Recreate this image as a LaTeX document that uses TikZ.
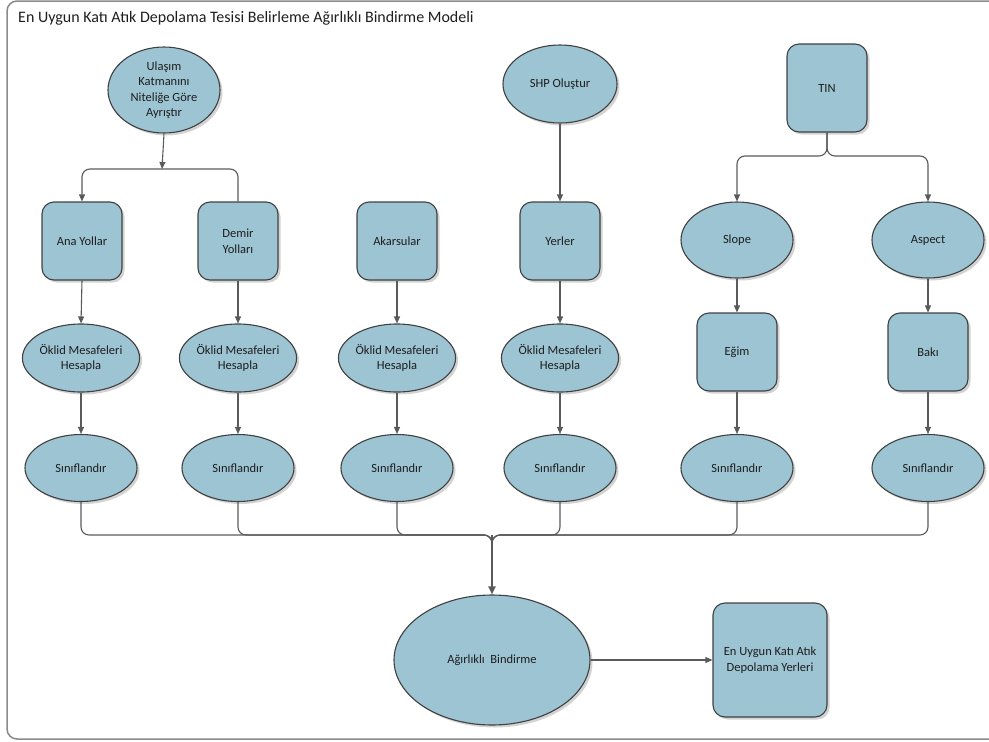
\documentclass[tikz,border=0pt]{standalone}
\usepackage{fontspec}
\setmainfont{Carlito}
\usetikzlibrary{shapes.geometric,arrows.meta,shadows}
\definecolor{nodefill}{HTML}{9DC4D3}
\definecolor{nodeline}{HTML}{404040}
\definecolor{conncol}{HTML}{5A5A5A}
\definecolor{framecol}{HTML}{8A8A8A}
\definecolor{txtcol}{HTML}{1E1E1E}
\tikzset{
  base/.style={draw=nodeline, line width=1.1pt, fill=nodefill, text=txtcol,
    font=\fontsize{12.5}{15.5}\selectfont, align=center, inner sep=0pt,
    drop shadow={shadow xshift=2.5pt, shadow yshift=-2.5pt, opacity=0.35, fill=gray}},
  ell/.style={base, ellipse, minimum width=112pt, minimum height=70pt},
  rbox/.style={base, rectangle, rounded corners=12pt, minimum width=80pt, minimum height=78pt},
  conn/.style={draw=conncol, line width=1.1pt},
  arr/.style={conn, -{Triangle[length=7pt,width=6pt]}},
}
\begin{document}
\begin{tikzpicture}[x=1pt,y=-1pt]
\useasboundingbox (0,0) rectangle (989,742);
\begin{scope}
\clip (0,0) rectangle (989,742);
\draw[framecol, line width=1.5pt, rounded corners=10pt] (7,1) rectangle (1000,739);
\end{scope}
\node[anchor=base west, text=txtcol, font=\fontsize{16}{19}\selectfont, inner sep=0pt] (title) at (18,22) {En Uygun Katı Atık Depolama Tesisi Belirleme Ağırlıklı Bindirme Modeli};

% top row
\node[ell, minimum height=86pt] (ul) at (164,90) {Ulaşım\\Katmanını\\Niteliğe Göre\\Ayrıştır};
\node[ell, minimum width=114pt, minimum height=78pt] (shp) at (560,84) {SHP Oluştur};
\node[rbox, minimum height=88pt] (tin) at (827,88) {TIN};

% second row
\node[rbox] (ana) at (82,241) {Ana Yollar};
\node[rbox] (dem) at (238,241) {Demir\\Yolları};
\node[rbox] (aka) at (397,241) {Akarsular};
\node[rbox] (yer) at (560,241) {Yerler};
\node[ell, minimum height=76pt] (slo) at (737,240) {Slope};
\node[ell, minimum height=76pt] (asp) at (928,240) {Aspect};

% third row
\node[ell, minimum height=68pt] (o1) at (81,358) {Öklid Mesafeleri\\Hesapla};
\node[ell, minimum height=68pt] (o2) at (238,358) {Öklid Mesafeleri\\Hesapla};
\node[ell, minimum height=68pt] (o3) at (397,358) {Öklid Mesafeleri\\Hesapla};
\node[ell, minimum height=68pt] (o4) at (560,358) {Öklid Mesafeleri\\Hesapla};
\node[rbox] (egm) at (737,352) {Eğim};
\node[rbox] (bak) at (928,352) {Bakı};

% fourth row
\node[ell, minimum height=67pt] (s1) at (81,468) {Sınıflandır};
\node[ell, minimum height=67pt] (s2) at (238,468) {Sınıflandır};
\node[ell, minimum height=67pt] (s3) at (397,468) {Sınıflandır};
\node[ell, minimum height=67pt] (s4) at (560,468) {Sınıflandır};
\node[ell, minimum height=67pt] (s5) at (737,468) {Sınıflandır};
\node[ell, minimum height=67pt] (s6) at (928,468) {Sınıflandır};

% bottom
\node[ell, minimum width=196pt, minimum height=130pt] (agr) at (492,660) {Ağırlıklı~ Bindirme};
\node[rbox, minimum width=114pt, minimum height=114pt] (res) at (770,660) {En Uygun Katı Atık\\Depolama Yerleri};

% junction coordinates
\coordinate (j1) at (162,169);
\coordinate (j2) at (827,156);
\coordinate (j3) at (492,535);
\coordinate (j4) at (492,560);

% connectors top
\draw[arr] (ul.south) -- (j1);
\draw[arr, rounded corners=8pt] (dem.north) |- (j1) -| (ana.north);
\draw[arr] (shp.south) -- (yer.north);
\draw[arr, rounded corners=8pt] (tin.south) -- (j2) -| (slo.north);
\draw[arr, rounded corners=8pt] (tin.south) -- (j2) -| (asp.north);

% vertical chains
\draw[arr] (ana.south) -- (o1.north);
\draw[arr] (dem.south) -- (o2.north);
\draw[arr] (aka.south) -- (o3.north);
\draw[arr] (yer.south) -- (o4.north);
\draw[arr] (slo.south) -- (egm.north);
\draw[arr] (asp.south) -- (bak.north);
\draw[arr] (o1.south) -- (s1.north);
\draw[arr] (o2.south) -- (s2.north);
\draw[arr] (o3.south) -- (s3.north);
\draw[arr] (o4.south) -- (s4.north);
\draw[arr] (egm.south) -- (s5.north);
\draw[arr] (bak.south) -- (s6.north);

% merge
\foreach \s in {s1,s2,s3,s4,s5,s6}{
  \draw[conn, rounded corners=8pt] (\s.south) |- (j3) -- (j4);
}
\draw[conn, line width=1.8pt, -{Triangle[length=8pt,width=7pt]}] (j3) -- (agr.north);
\draw[arr] (agr.east) -- (res.west);
\end{tikzpicture}
\end{document}
